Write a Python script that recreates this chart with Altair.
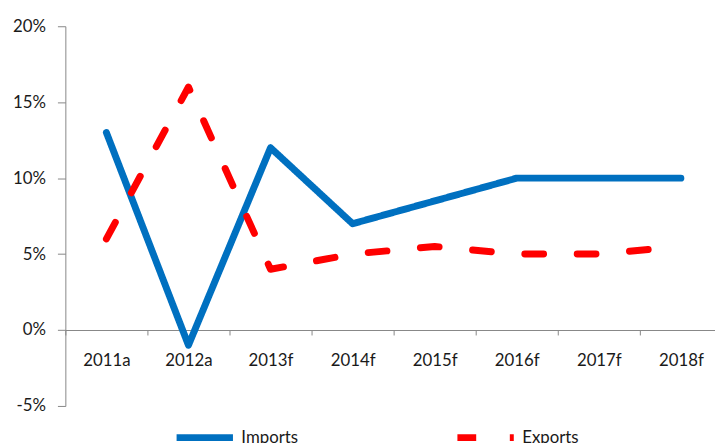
import altair as alt
import pandas as pd

years = ["2011a", "2012a", "2013f", "2014f", "2015f", "2016f", "2017f", "2018f"]
imports = [13, -1, 12, 7, 8.5, 10, 10, 10]
exports = [6, 16, 4, 5, 5.5, 5, 5, 5.5]
series_names = ["Imports", "Exports"]
series_colors = ["#0070C0", "#FF0000"]
y_ticks = [-5, 0, 5, 10, 15, 20]

rows = []
for name, vals in zip(series_names, [imports, exports]):
    for yr, v in zip(years, vals):
        rows.append({"year": yr, "value": v, "series": name})
df = pd.DataFrame(rows)

FONT = "Lato"
TXT = "#1a1a1a"
AX = "#878787"

leg = alt.Legend(
    title=None,
    orient="none",
    legendX=109,
    legendY=384,
    direction="horizontal",
    symbolType="stroke",
    symbolSize=3249,
    symbolStrokeWidth=7,
    labelFont=FONT,
    labelFontSize=17,
    labelColor=TXT,
    labelOffset=5,
    columnPadding=146,
)

chart = (
    alt.Chart(df)
    .mark_line(strokeWidth=7, strokeCap="round", strokeJoin="round")
    .encode(
        x=alt.X(
            "year:N",
            sort=years,
            scale=alt.Scale(type="band", paddingInner=0, paddingOuter=0, range=[0, 664]),
            axis=alt.Axis(
                title=None,
                offset=-76.8,
                tickBand="extent",
                labelAngle=0,
                tickSize=5,
                labelPadding=18,
                labelFont=FONT,
                labelFontSize=17,
                labelColor=TXT,
                domainColor=AX,
                tickColor=AX,
                grid=False,
            ),
        ),
        y=alt.Y(
            "value:Q",
            scale=alt.Scale(domain=[-5, 20], nice=False, zero=False),
            axis=alt.Axis(
                title=None,
                values=y_ticks,
                labelExpr="datum.value + '%'",
                grid=False,
                tickSize=8,
                labelPadding=12,
                labelFont=FONT,
                labelFontSize=17,
                labelColor=TXT,
                domainColor=AX,
                tickColor=AX,
            ),
        ),
        color=alt.Color(
            "series:N",
            scale=alt.Scale(domain=series_names, range=series_colors),
            legend=leg,
        ),
        strokeDash=alt.StrokeDash(
            "series:N",
            scale=alt.Scale(domain=series_names, range=[[1, 0], [19, 34]]),
            legend=leg,
        ),
    )
    .properties(
        width=657,
        height=384,
        autosize="none",
        padding={"left": 58, "top": 16, "right": 0, "bottom": 35},
        background="white",
    )
    .configure_view(strokeWidth=0)
)

chart.save("out.html", embed_options={"renderer": "svg", "actions": False})
